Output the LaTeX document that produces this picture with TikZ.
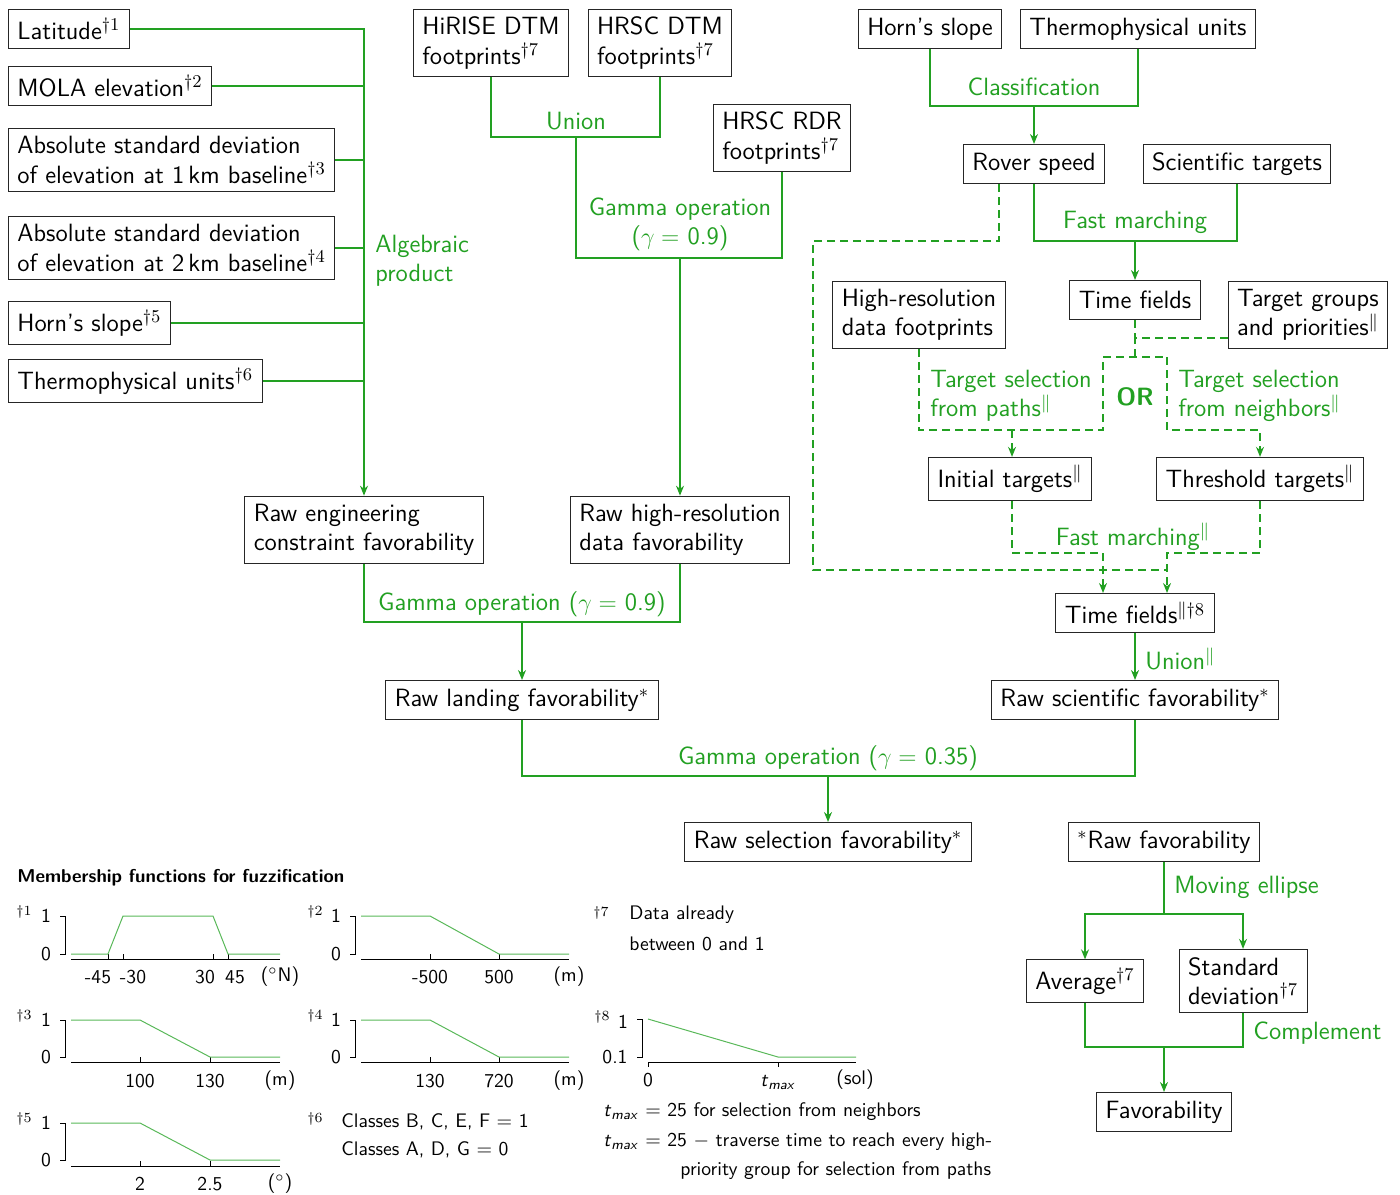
\documentclass[tikz,border=0pt]{standalone}
\usetikzlibrary{arrows.meta}
\definecolor{grn}{RGB}{34,160,34}
\newcommand\mfont{\fontsize{12.5}{14.6}\selectfont\sffamily}
\newcommand\sfont{\fontsize{9.8}{14.5}\selectfont\sffamily}
\newcommand\tmx{\textit{t}\textsubscript{\textit{max}}}
\tikzset{
  box/.style={draw=black!85, line width=0.5pt, inner xsep=4.5pt, inner ysep=4pt, font=\mfont, align=left, fill=white, minimum height=19.5pt},
  lab/.style={text=grn, font=\mfont, inner sep=0pt},
  ln/.style={draw=grn, line width=0.65pt},
  arr/.style={ln, -{Stealth[length=5pt,width=4pt]}},
  dsh/.style={ln, dash pattern=on 4pt off 2.5pt},
  dsharr/.style={dsh, -{Stealth[length=5pt,width=4pt]}},
  mf/.style={draw=grn!75, line width=0.5pt},
  ax/.style={draw=black, line width=0.5pt},
  sm/.style={font=\sfont, inner sep=0pt},
  dg/.style={font=\sfont, inner sep=0pt},
}
\begin{document}
\begin{tikzpicture}[x=0.5pt,y=-0.5pt]
\useasboundingbox (0,0) rectangle (1400,1194);
% ---------------- left column ----------------
\node[box, anchor=west] (lat) at (8,29) {Latitude$^{\dagger1}$};
\node[box, anchor=west] (mola) at (8,86) {MOLA elevation$^{\dagger2}$};
\node[box, anchor=west] (asd1) at (8,160) {Absolute standard deviation\\of elevation at 1\,km baseline$^{\dagger3}$};
\node[box, anchor=west] (asd2) at (8,248) {Absolute standard deviation\\of elevation at 2\,km baseline$^{\dagger4}$};
\node[box, anchor=west] (hs1) at (8,323) {Horn's slope$^{\dagger5}$};
\node[box, anchor=west] (tu1) at (8,381) {Thermophysical units$^{\dagger6}$};
\node[box] (eng) at (364,530) {Raw engineering\\constraint favorability};
\draw[arr] (lat.east) -| (eng.north);
\draw[ln] (mola.east) -- (mola.east -| eng.north);
\draw[ln] (asd1.east) -- (asd1.east -| eng.north);
\draw[ln] (asd2.east) -- (asd2.east -| eng.north);
\draw[ln] (hs1.east) -- (hs1.east -| eng.north);
\draw[ln] (tu1.east) -- (tu1.east -| eng.north);
\node[lab, anchor=west, align=left] (algl) at (375,261) {Algebraic\\product};
% ---------------- middle ----------------
\node[box] (hirise) at (491,43) {HiRISE DTM\\footprints$^{\dagger7}$};
\node[box] (hrscdtm) at (660,43) {HRSC DTM\\footprints$^{\dagger7}$};
\node[box] (hrscrdr) at (782,138) {HRSC RDR\\footprints$^{\dagger7}$};
\node[box] (hires) at (680,530) {Raw high-resolution\\data favorability};
\coordinate (u) at (576,137);
\coordinate (g1) at (680,258);
\draw[ln] (hirise.south) |- (u) -| (hrscdtm.south);
\node[lab] (unl) at (576,121) {Union};
\draw[ln] (u) |- (g1) -| (hrscrdr.south);
\draw[arr] (g1) -- (hires.north);
\node[lab, align=center] (g1l) at (680,224) {Gamma operation\\($\gamma =$ 0.9)};
\node[box] (land) at (522,700) {Raw landing favorability$^{*}$};
\coordinate (g2) at (522,622);
\draw[ln] (eng.south) |- (g2) -| (hires.south);
\draw[arr] (g2) -- (land.north);
\node[lab] (g2l) at (522,604) {Gamma operation ($\gamma =$ 0.9)};
% ---------------- right ----------------
\node[box] (hs2) at (930,29) {Horn's slope};
\node[box] (tu2) at (1138,29) {Thermophysical units};
\node[box] (rover) at (1034,164) {Rover speed};
\node[box] (sci) at (1237,164) {Scientific targets};
\coordinate (cl) at (1034,106);
\draw[ln] (hs2.south) |- (cl) -| (tu2.south);
\draw[arr] (cl) -- (rover.north);
\node[lab] (cll) at (1034,87) {Classification};
\node[box] (tf) at (1135,300) {Time fields};
\coordinate (fm) at (1135,241);
\draw[ln] (rover.south) |- (fm) -| (sci.south);
\draw[arr] (fm) -- (tf.north);
\node[lab] (fml) at (1135,222) {Fast marching};
\node[box] (hrfp) at (919,315) {High-resolution\\data footprints};
\node[box] (tgp) at (1308,315) {Target groups\\and priorities$^{\|}$};
\node[box] (init) at (1010,479) {Initial targets$^{\|}$};
\node[box] (thr) at (1260,479) {Threshold targets$^{\|}$};
\node[box] (tf2) at (1135,613) {Time fields$^{\|\dagger8}$};
\coordinate (j1) at (1135,338);
\coordinate (j2) at (1135,357);
\coordinate (orL) at (1103,357);
\coordinate (orR) at (1167,357);
\coordinate (sl) at (1012,430);
\draw[dsh] (tf.south) -- (j1);
\draw[dsh] (tgp.west |- j1) -- (j1) -- (j2);
\draw[dsh] (orL) -- (orR);
\draw[dsh] (hrfp.south) |- (orL |- sl) -- (orL);
\draw[dsharr] (sl) -- (init.north -| sl);
\draw[dsharr] (orR) |- (thr.north |- sl) -- (thr.north);
\node[lab, font=\mfont\bfseries] (orl) at (1135,397) {OR};
\node[lab, anchor=west, align=left] (tsp) at (930,396) {Target selection\\from paths$^{\|}$};
\node[lab, anchor=west, align=left] (tsn) at (1178,396) {Target selection\\from neighbors$^{\|}$};
\coordinate (fmL) at (1103,553);
\coordinate (fmR) at (1167,553);
\coordinate (ro) at (999,241);
\coordinate (ob) at (813,570);
\draw[dsh] (rover.south -| ro) -- (ro) -| (ob) -- (ob -| fmR);
\draw[dsharr] (init.south -| sl) |- (fmL) -- (tf2.north -| fmL);
\draw[dsharr] (thr.south) |- (fmR) -- (tf2.north -| fmR);
\node[lab] (fm2l) at (1133,537) {Fast marching$^{\|}$};
\node[box] (sciF) at (1135,700) {Raw scientific favorability$^{*}$};
\draw[arr] (tf2.south) -- (sciF.north);
\node[lab, anchor=west] (unl2) at (1145,659) {Union$^{\|}$};
\node[box] (sel) at (828,842) {Raw selection favorability$^{*}$};
\coordinate (g3) at (828,776);
\draw[ln] (land.south) |- (g3) -| (sciF.south);
\draw[arr] (g3) -- (sel.north);
\node[lab] (g3l) at (828,758) {Gamma operation ($\gamma =$ 0.35)};
% ---------------- bottom right ----------------
\node[box] (rawf) at (1164,842) {$^{*}$Raw favorability};
\node[box] (avg) at (1085,981) {Average$^{\dagger7}$};
\node[box] (sd) at (1243,981) {Standard\\deviation$^{\dagger7}$};
\node[box] (fav) at (1164,1112) {Favorability};
\coordinate (me) at (1164,914);
\draw[ln] (rawf.south) -- (me);
\draw[arr] (me) -| (avg.north);
\draw[arr] (me) -| (sd.north);
\node[lab, anchor=west] (mel) at (1174,887) {Moving ellipse};
\coordinate (cp) at (1164,1047);
\draw[ln] (avg.south) |- (cp) -| (sd.south);
\draw[arr] (cp) -- (fav.north);
\node[lab, anchor=west] (cpl) at (1253,1033) {Complement};
% ---------------- membership functions ----------------
\node[sm, anchor=west, font=\fontsize{9.3}{12}\selectfont\sffamily\bfseries] (mft) at (17,878) {Membership functions for fuzzification};
% plot 1
\node[dg] at (24,912) {$\scriptstyle\dagger1$};
\node[sm] at (46,916) {1};
\node[sm] at (46,954) {0};
\draw[ax] (60,916) -- (65,916) -- (65,954) -- (60,954);
\draw[ax] (71,959) -- (280,959);
\foreach \t in {108,123,213,228} \draw[ax] (\t,959) -- (\t,954);
\draw[mf] (71,954) -- (108,954) -- (123,916) -- (213,916) -- (228,954) -- (280,954);
\node[sm] at (98,977) {-45};
\node[sm] at (133,977) {-30};
\node[sm] at (205,977) {30};
\node[sm] at (235,977) {45};
\node[sm] at (280,977) {($^\circ$N)};
% plot 2
\node[dg] at (315,912) {$\scriptstyle\dagger2$};
\node[sm] at (336,916) {1};
\node[sm] at (336,954) {0};
\draw[ax] (350,916) -- (355,916) -- (355,954) -- (350,954);
\draw[ax] (361,959) -- (569,959);
\foreach \t in {430,499} \draw[ax] (\t,959) -- (\t,954);
\draw[mf] (361,916) -- (430,916) -- (499,954) -- (569,954);
\node[sm] at (430,977) {-500};
\node[sm] at (499,977) {500};
\node[sm] at (569,977) {(m)};
% plot 3
\node[dg] at (24,1016) {$\scriptstyle\dagger3$};
\node[sm] at (46,1020) {1};
\node[sm] at (46,1057) {0};
\draw[ax] (60,1020) -- (65,1020) -- (65,1057) -- (60,1057);
\draw[ax] (71,1062) -- (280,1062);
\foreach \t in {140,210} \draw[ax] (\t,1062) -- (\t,1057);
\draw[mf] (71,1020) -- (140,1020) -- (210,1057) -- (280,1057);
\node[sm] at (140,1081) {100};
\node[sm] at (210,1081) {130};
\node[sm] at (280,1081) {(m)};
% plot 4
\node[dg] at (315,1016) {$\scriptstyle\dagger4$};
\node[sm] at (336,1020) {1};
\node[sm] at (336,1057) {0};
\draw[ax] (350,1020) -- (355,1020) -- (355,1057) -- (350,1057);
\draw[ax] (361,1062) -- (569,1062);
\foreach \t in {430,499} \draw[ax] (\t,1062) -- (\t,1057);
\draw[mf] (361,1020) -- (430,1020) -- (499,1057) -- (569,1057);
\node[sm] at (430,1081) {130};
\node[sm] at (499,1081) {720};
\node[sm] at (569,1081) {(m)};
% plot 5
\node[dg] at (24,1119) {$\scriptstyle\dagger5$};
\node[sm] at (46,1123) {1};
\node[sm] at (46,1160) {0};
\draw[ax] (60,1123) -- (65,1123) -- (65,1160) -- (60,1160);
\draw[ax] (71,1166) -- (280,1166);
\foreach \t in {140,210} \draw[ax] (\t,1166) -- (\t,1161);
\draw[mf] (71,1123) -- (140,1123) -- (210,1160) -- (280,1160);
\node[sm] at (140,1184) {2};
\node[sm] at (210,1184) {2.5};
\node[sm] at (280,1184) {($^\circ$)};
% note 6
\node[dg] at (315,1119) {$\scriptstyle\dagger6$};
\node[sm, anchor=west] at (341,1122) {Classes B, C, E, F $=$ 1};
\node[sm, anchor=west] at (341,1150) {Classes A, D, G $=$ 0};
% note 7
\node[dg] at (601,913) {$\scriptstyle\dagger7$};
\node[sm, anchor=west] at (629,915) {Data already};
\node[sm, anchor=west] at (629,944) {between 0 and 1};
% plot 8
\node[dg] at (602,1017) {$\scriptstyle\dagger8$};
\node[sm] at (623,1022) {1};
\node[sm] at (615,1057) {0.1};
\draw[ax] (637,1019) -- (642,1019) -- (642,1057) -- (637,1057);
\draw[ax] (648,1062) -- (856,1062);
\foreach \t in {648,778} \draw[ax] (\t,1062) -- (\t,1067);
\draw[mf] (648,1019) -- (778,1057) -- (856,1057);
\node[sm] at (648,1080) {0};
\node[sm] at (778,1082) {\tmx};
\node[sm] at (855,1080) {(sol)};
\node[sm, anchor=west] at (603,1112) {\tmx{} $=$ 25 for selection from neighbors};
\node[sm, anchor=west] at (603,1142) {\tmx{} $=$ 25 $-$ traverse time to reach every high-};
\node[sm, anchor=west] at (680,1171) {priority group for selection from paths};
\end{tikzpicture}
\end{document}
